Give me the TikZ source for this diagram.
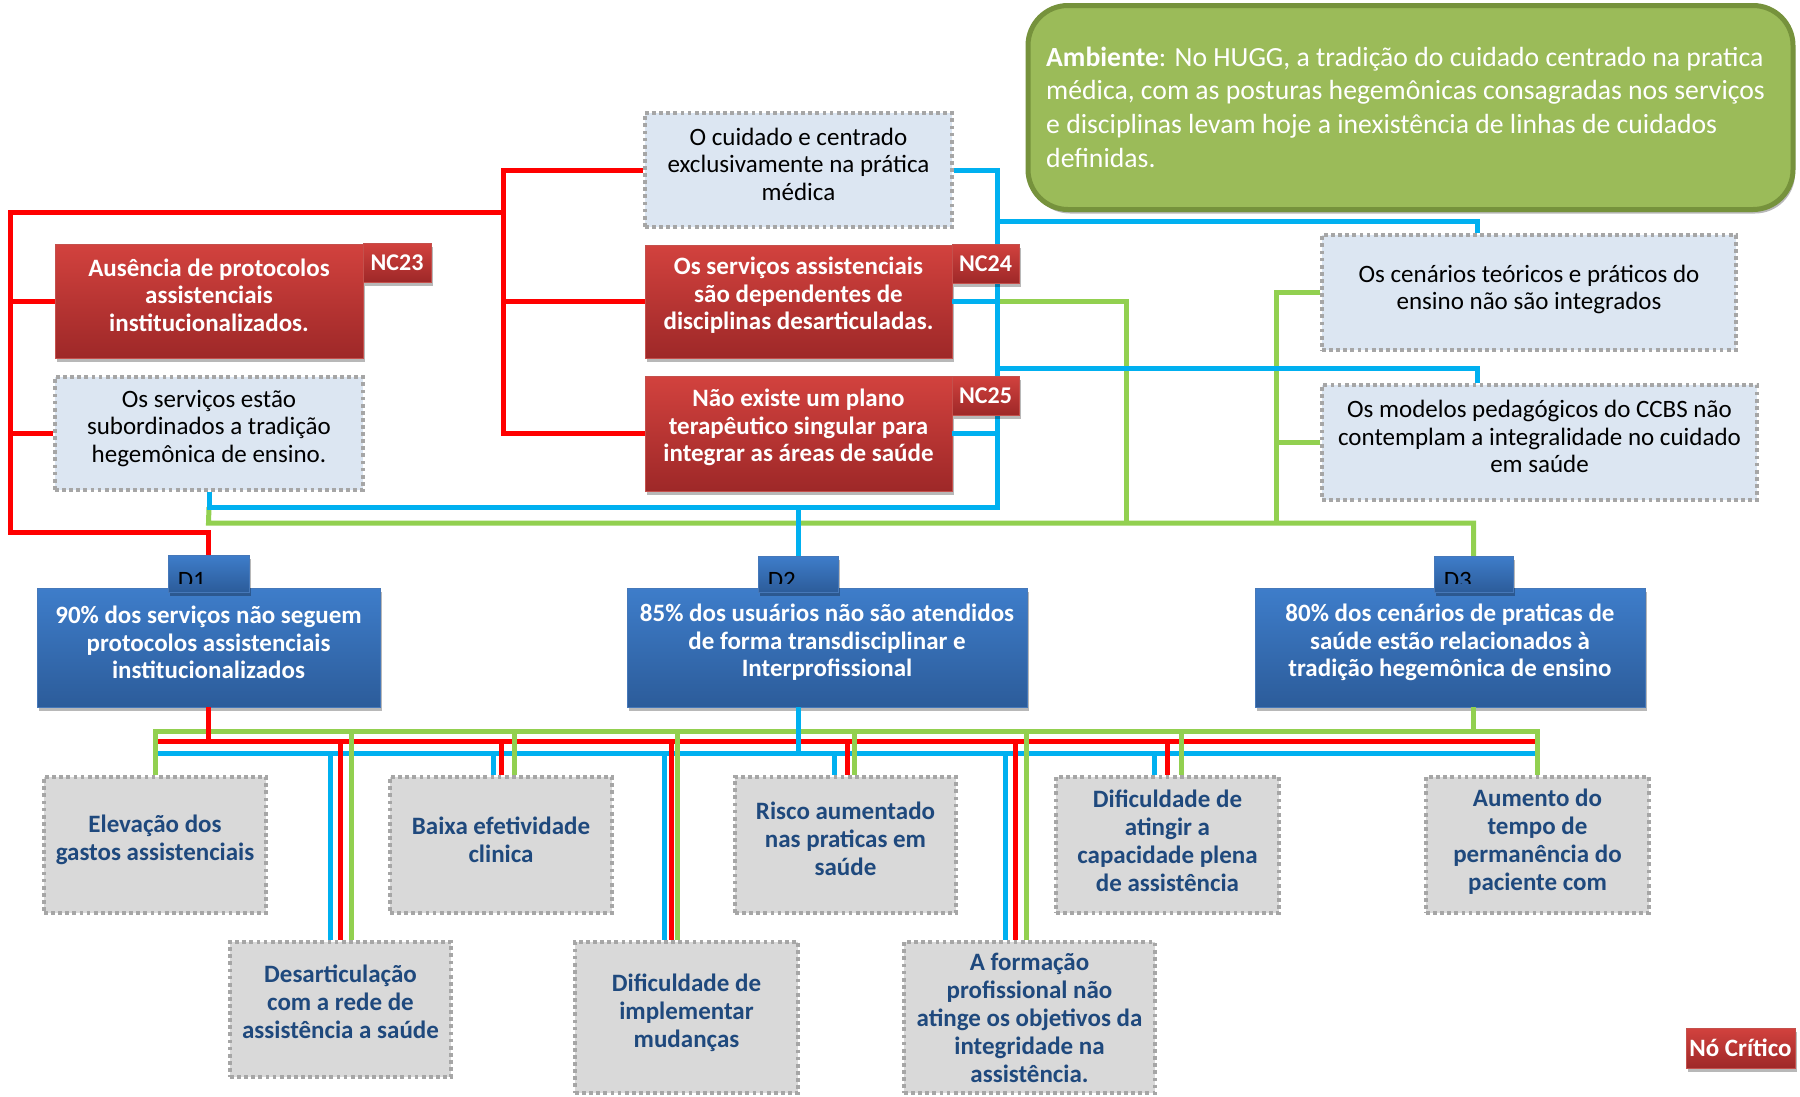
\documentclass[tikz,border=0pt]{standalone}
\usepackage{fontspec}
\setmainfont{Carlito}
\usetikzlibrary{shadows}

\definecolor{lnRed}{RGB}{255,0,0}
\definecolor{lnBlue}{RGB}{0,176,240}
\definecolor{lnGreen}{RGB}{146,208,80}
\definecolor{boxRedTop}{RGB}{210,66,62}
\definecolor{boxRedBot}{RGB}{158,40,40}
\definecolor{redEdge}{RGB}{196,80,76}
\definecolor{boxBlueTop}{RGB}{62,125,202}
\definecolor{boxBlueBot}{RGB}{44,92,154}
\definecolor{blueEdge}{RGB}{70,120,185}
\definecolor{paleBlue}{RGB}{220,230,242}
\definecolor{paleGray}{RGB}{217,217,217}
\definecolor{dotEdge}{RGB}{166,166,166}
\definecolor{navyText}{RGB}{31,73,125}
\definecolor{oliveFill}{RGB}{155,187,89}
\definecolor{oliveEdge}{RGB}{118,146,60}

\begin{document}
\begin{tikzpicture}[x=1pt,y=-1pt,
  every node/.style={inner sep=0pt, align=center},
  conn/.style={line width=5pt, line join=miter, line cap=butt},
  redln/.style={conn, draw=lnRed},
  bluln/.style={conn, draw=lnBlue},
  grnln/.style={conn, draw=lnGreen},
  shadowed/.style={drop shadow={shadow xshift=2pt, shadow yshift=-4pt, opacity=0.28, fill=black}},
  txtbold/.style={font=\bfseries\fontsize{25}{27.5}\selectfont},
  txtreg/.style={font=\fontsize{25}{27.5}\selectfont},
  rednode/.style={shadowed, draw=redEdge, line width=0.7pt, top color=boxRedTop, bottom color=boxRedBot},
  bluenode/.style={shadowed, draw=blueEdge, line width=0.7pt, top color=boxBlueTop, bottom color=boxBlueBot},
  lighttxt/.style={text=white, txtbold},
  tagtext/.style={text=white, font=\bfseries\fontsize{24}{26}\selectfont},
  dotbox/.style={draw=dotEdge, line width=4pt, dash pattern=on 3.8pt off 3.3pt},
  causebox/.style={dotbox, fill=paleBlue},
  causetxt/.style={text=black, txtreg},
  effectbox/.style={dotbox, fill=paleGray},
  effecttxt/.style={text=navyText, font=\bfseries\fontsize{25}{28}\selectfont},
  dlabel/.style={anchor=base west, text=black, txtreg}
]
\fill[white] (0,0) rectangle (1800,1096);
\useasboundingbox (0,0) rectangle (1800,1096);

% ---------- environment note ----------
\node[draw=oliveEdge, line width=5pt, fill=oliveFill, rounded corners=40pt,
      minimum width=765pt, minimum height=204pt, shadowed] (amb) at (1410.5,107.5) {};
\node[anchor=west, align=left, text=white, font=\fontsize{27.7}{33.7}\selectfont] (ambtxt) at (1046,107)
  {\textbf{Ambiente}: No HUGG, a tradição do cuidado centrado na pratica\\
   médica, com as posturas hegemônicas consagradas nos serviços\\
   e disciplinas levam hoje a inexistência de linhas de cuidados\\
   definidas.};

% ---------- cause boxes ----------
\node[rednode, minimum width=308pt, minimum height=114pt] (nc23) at (209,301) {};
\node[causebox, minimum width=308pt, minimum height=113pt] (sub) at (209,433.5) {};
\node[causebox, minimum width=307pt, minimum height=114pt] (cuid) at (798.5,170) {};
\node[rednode, minimum width=307pt, minimum height=113pt] (nc24) at (798.5,301.5) {};
\node[rednode, minimum width=307pt, minimum height=115pt] (nc25) at (798.5,433.5) {};
\node[causebox, minimum width=414pt, minimum height=115pt] (cen) at (1529,292.5) {};
\node[causebox, minimum width=435pt, minimum height=115pt] (mod) at (1539.5,442.5) {};

\node[lighttxt] (nc23t) at ([yshift=6pt]nc23.center) {Ausência de protocolos\\assistenciais\\institucionalizados.};
\node[causetxt] (subt) at ([yshift=5pt]sub.center) {Os serviços estão\\subordinados a tradição\\hegemônica de ensino.};
\node[causetxt] (cuidt) at ([yshift=6pt]cuid.center) {O cuidado e centrado\\exclusivamente na prática\\médica};
\node[lighttxt] (nc24t) at ([yshift=6pt]nc24.center) {Os serviços assistenciais\\são dependentes de\\disciplinas desarticuladas.};
\node[lighttxt] (nc25t) at ([yshift=6pt]nc25.center) {Não existe um plano\\terapêutico singular para\\integrar as áreas de saúde};
\node[causetxt] (cent) at ([yshift=3pt]cen.center) {Os cenários teóricos e práticos do\\ensino não são integrados};
\node[causetxt] (modt) at ([yshift=6pt]mod.center) {Os modelos pedagógicos do CCBS não\\contemplam a integralidade no cuidado\\em saúde};

% ---------- descriptor boxes ----------
\node[bluenode, minimum width=343pt, minimum height=119pt] (d1) at (208.5,647.5) {};
\node[bluenode, minimum width=400pt, minimum height=119pt] (d2) at (827,647.5) {};
\node[bluenode, minimum width=390pt, minimum height=119pt] (d3) at (1450,647.5) {};
\node[lighttxt] (d1t) at ([yshift=5pt]d1.center) {90\% dos serviços não seguem\\protocolos assistenciais\\institucionalizados};
\node[lighttxt] (d2t) at ([yshift=5pt]d2.center) {85\% dos usuários não são atendidos\\de forma transdisciplinar e\\Interprofissional};
\node[lighttxt] (d3t) at ([yshift=5pt]d3.center) {80\% dos cenários de praticas de\\saúde estão relacionados à\\tradição hegemônica de ensino};

% ---------- consequence boxes ----------
\node[effectbox, minimum width=222pt, minimum height=136pt] (e1) at (155,845) {};
\node[effectbox, minimum width=221pt, minimum height=135pt] (e2) at (340.5,1009.5) {};
\node[effectbox, minimum width=222pt, minimum height=136pt] (e3) at (501,845) {};
\node[effectbox, minimum width=223pt, minimum height=151pt] (e4) at (686.5,1017.5) {};
\node[effectbox, minimum width=221pt, minimum height=136pt] (e5) at (845.5,845) {};
\node[effectbox, minimum width=251pt, minimum height=151pt] (e6) at (1029.5,1017.5) {};
\node[effectbox, minimum width=223pt, minimum height=136pt] (e7) at (1167.5,845) {};
\node[effectbox, minimum width=223pt, minimum height=136pt] (e8) at (1537.5,845) {};

\node[effecttxt] (e1t) at ([yshift=5pt]e1.center) {Elevação dos\\gastos assistenciais};
\node[effecttxt] (e2t) at ([yshift=8pt]e2.center) {Desarticulação\\com a rede de\\assistência a saúde};
\node[effecttxt] (e3t) at ([yshift=5pt]e3.center) {Baixa efetividade\\clinica};
\node[effecttxt] (e4t) at ([yshift=5pt]e4.center) {Dificuldade de\\implementar\\mudanças};
\node[effecttxt] (e5t) at ([yshift=6pt]e5.center) {Risco aumentado\\nas praticas em\\saúde};
\node[effecttxt] (e6t) at (e6.center) {A formação\\profissional não\\atinge os objetivos da\\integridade na\\assistência.};
\node[effecttxt] (e7t) at ([yshift=4pt]e7.center) {Dificuldade de\\atingir a\\capacidade plena\\de assistência};
\node[effecttxt] (e8t) at ([yshift=3pt]e8.center) {Aumento do\\tempo de\\permanência do\\paciente com};

\node[rednode, lighttxt, minimum width=109pt, minimum height=40pt] (crit) at (1740.5,1048) {Nó Crítico};

% ---------- tag positions (drawn after the connectors) ----------
\coordinate (d1tagc) at (208.5,573.5);
\coordinate (d2tagc) at (798,574);
\coordinate (d3tagc) at (1473.5,574);

% ---------- upper connectors: green, then blue, then red ----------
\coordinate (bS) at (997,507);
\coordinate (bL) at (sub.south |- bS);
\coordinate (gL) at (208.5,523);
\coordinate (gB) at (d3tagc |- gL);
\coordinate (gN) at (1126,523);
\coordinate (gS) at (1276,523);

\draw[grnln] (bL) -- (gL) -- (gB) -- ([yshift=-18pt]d3tagc);
\draw[grnln] (nc24.east) -- (nc24.east -| gN) -- (gN);
\draw[grnln] (cen.west) -- (cen.west -| gS) -- (gS);
\draw[grnln] (mod.west) -- (mod.west -| gS);

\coordinate (bC) at (1477,221);
\coordinate (bM) at (1477,368);
\draw[bluln] (cuid.east) -- (cuid.east -| bS) -- (bS) -- (bL) -- (sub.south);
\draw[bluln] (nc24.east) -- (nc24.east -| bS);
\draw[bluln] (nc25.east) -- (nc25.east -| bS);
\draw[bluln] (bC -| bS) -- (bC) -- (bC |- cen.north);
\draw[bluln] (bM -| bS) -- (bM) -- (bM |- mod.north);
\draw[bluln] (d2tagc |- bS) -- ([yshift=-18pt]d2tagc);

\coordinate (rA) at (10,212);
\coordinate (rB) at (503,212);
\coordinate (rC) at (10,532);
\coordinate (rD) at (d1tagc |- rC);
\draw[redln] (rB) -- (rA) -- (rC) -- (rD) -- ([yshift=-18pt]d1tagc);
\draw[redln] (nc23.west) -- (nc23.west -| rA);
\draw[redln] (sub.west) -- (sub.west -| rA);
\draw[redln] (cuid.west) -- (cuid.west -| rB) -- (nc25.west -| rB) -- (nc25.west);
\draw[redln] (nc24.west) -- (nc24.west -| rB);

% ---------- lower buses: blue, red, green ----------
\coordinate (busB) at (0,753);
\coordinate (busR) at (0,741);
\coordinate (busG) at (0,731);

\draw[bluln] ([xshift=3pt]e1.north |- busB) -- ([xshift=-2pt]e8.north |- busB);
\foreach \n/\dx in {e2/-10.5, e3/-8, e4/-22.5, e5/-11.5, e6/-24.5, e7/-13.5}{
  \coordinate (tip) at ([xshift=\dx pt]\n.north);
  \draw[bluln] (tip |- busB) -- (tip);
}
\draw[redln] ([xshift=3pt]e1.north |- busR) -- ([xshift=-2pt]e8.north |- busR);
\foreach \n/\dx in {e2/-0.5, e3/0, e4/-15.5, e5/1.5, e6/-14.5, e7/-0.5}{
  \coordinate (tip) at ([xshift=\dx pt]\n.north);
  \draw[redln] (tip |- busR) -- (tip);
}
\draw[grnln] (e1.north) -- (e1.north |- busG) -- (e8.north |- busG) -- (e8.north);
\foreach \n/\dx in {e2/10.5, e3/13, e4/-9.5, e5/8.5, e6/-3.5, e7/13.5}{
  \coordinate (tip) at ([xshift=\dx pt]\n.north);
  \draw[grnln] (tip |- busG) -- (tip);
}
\draw[grnln] (d3tagc |- d3.south) -- (d3tagc |- busG);
\draw[redln] (d1.south) -- (d1.south |- busR);
\draw[bluln] (d2tagc |- d2.south) -- (d2tagc |- busB);

% ---------- tags on top of the connectors ----------
\node[rednode, tagtext, minimum width=68pt, minimum height=39pt] (nc23tag) at (397,262.5) {NC23};
\node[rednode, tagtext, minimum width=67pt, minimum height=39pt] (nc24tag) at (985.5,263.5) {NC24};
\node[rednode, tagtext, minimum width=67pt, minimum height=39pt] (nc25tag) at (985.5,395.5) {NC25};

\node[bluenode, minimum width=81pt, minimum height=37pt] (d1tag) at (d1tagc) {};
\node[bluenode, minimum width=80pt, minimum height=36pt] (d2tag) at (d2tagc) {};
\node[bluenode, minimum width=79pt, minimum height=36pt] (d3tag) at (d3tagc) {};
\foreach \t/\s in {d1tag/D1, d2tag/D2, d3tag/D3}{
  \begin{scope}
    \clip (\t.north west) rectangle ([yshift=9pt]\t.south east);
    \node[dlabel] (\t lbl) at ([xshift=10pt,yshift=4pt]\t.south west) {\s};
  \end{scope}
}
\end{tikzpicture}
\end{document}
